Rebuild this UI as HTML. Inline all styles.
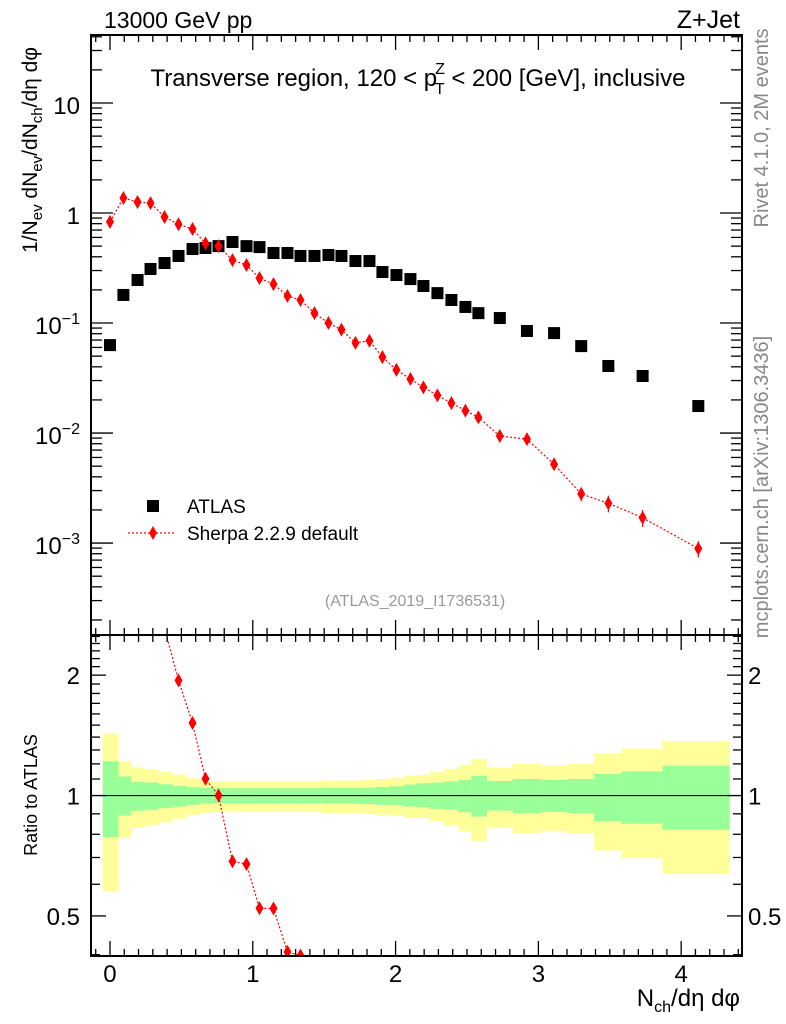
<!DOCTYPE html>
<html><head><meta charset="utf-8"><style>
html,body{margin:0;padding:0;background:#fff;overflow:hidden;width:786px;height:1024px;}
svg{display:block;}
svg text{font-family:"Liberation Sans",sans-serif;}
</style></head><body>
<svg id="chart" width="786" height="1024" viewBox="0 0 786 1024" xmlns="http://www.w3.org/2000/svg">
<g id="bands"></g>
<g id="marks"></g>
<g id="axes"></g>
<text x="104" y="28" font-size="23">13000 GeV pp</text>
<text x="740" y="28" font-size="25" text-anchor="end">Z+Jet</text>
<text x="418" y="86" font-size="24" text-anchor="middle">Transverse region, 120 &lt; p<tspan font-size="16" dx="-2" dy="-12">Z</tspan><tspan font-size="16" dx="-10" dy="20">T</tspan><tspan dy="-8"> &lt; 200 [GeV], inclusive</tspan></text>
<text transform="translate(37,150) rotate(-90)" font-size="21" text-anchor="middle">1/N<tspan font-size="15" dy="5">ev</tspan><tspan dy="-5"> dN</tspan><tspan font-size="15" dy="5">ev</tspan><tspan dy="-5">/dN</tspan><tspan font-size="15" dy="5">ch</tspan><tspan dy="-5">/dη dφ</tspan></text>
<text transform="translate(37,795) rotate(-90)" font-size="18" text-anchor="middle">Ratio to ATLAS</text>
<text x="740" y="1006" font-size="24" text-anchor="end">N<tspan font-size="16" dy="6">ch</tspan><tspan dy="-6">/dη dφ</tspan></text>
<text transform="translate(768,128) rotate(-90)" font-size="20" fill="#888" text-anchor="middle">Rivet 4.1.0,  2M events</text>
<text transform="translate(768,487) rotate(-90)" font-size="20" fill="#888" text-anchor="middle">mcplots.cern.ch [arXiv:1306.3436]</text>
<text x="415" y="606" font-size="16" fill="#999" text-anchor="middle">(ATLAS_2019_I1736531)</text>
<g>
<rect x="147" y="500" width="12" height="12" fill="#000"/>
<text x="187" y="513" font-size="19">ATLAS</text>
<line x1="128" y1="533" x2="176" y2="533" stroke="red" stroke-width="1.2" stroke-dasharray="2,2"/>
<path d="M153,526 L157,533 L153,540 L149,533 Z" fill="red"/>
<text x="187" y="540" font-size="19">Sherpa 2.2.9 default</text>
</g>
</svg>
<script>
const xCenters=[0,0.094,0.193,0.284,0.382,0.480,0.578,0.669,0.760,0.858,0.956,1.047,1.145,1.243,1.334,1.432,1.530,1.621,1.719,1.817,1.908,2.006,2.104,2.195,2.293,2.391,2.489,2.580,2.73,2.92,3.11,3.30,3.49,3.73,4.12];
const binEdges=[-0.05,0.06,0.15,0.245,0.34,0.44,0.54,0.63,0.72,0.81,0.91,1.0,1.1,1.2,1.29,1.38,1.48,1.58,1.67,1.77,1.86,1.96,2.06,2.15,2.24,2.34,2.44,2.53,2.64,2.82,3.02,3.20,3.39,3.58,3.87,4.34];
const atlasValues=[0.063,0.18,0.246,0.31,0.351,0.407,0.471,0.481,0.50,0.545,0.50,0.49,0.433,0.433,0.407,0.407,0.415,0.407,0.366,0.366,0.291,0.273,0.251,0.217,0.187,0.162,0.14,0.123,0.111,0.0846,0.081,0.0617,0.0407,0.033,0.0176];
const sherpaValues=[0.83,1.37,1.26,1.23,0.92,0.79,0.715,0.53,0.50,0.373,0.337,0.256,0.226,0.176,0.162,0.123,0.10,0.087,0.066,0.069,0.049,0.0375,0.031,0.026,0.022,0.0187,0.016,0.0139,0.0094,0.0088,0.0052,0.0028,0.0023,0.0017,0.00089];
const sherpaErrors=[0,0,0,0,0,0,0,0,0,0,0,0,0,0,0,0,0,0,0,0,0,0,0,0,0,0,0,0,0.0006,0.0006,0.0005,0.0004,0.0004,0.0003,0.00015];
const yellowUp=[1.43,1.218,1.175,1.164,1.148,1.128,1.105,1.09,1.085,1.084,1.084,1.084,1.084,1.084,1.084,1.084,1.09,1.09,1.09,1.095,1.1,1.105,1.12,1.126,1.144,1.166,1.193,1.232,1.175,1.2,1.188,1.2,1.276,1.31,1.37];
const yellowDn=[0.576,0.785,0.829,0.841,0.856,0.875,0.895,0.905,0.91,0.912,0.912,0.912,0.912,0.912,0.912,0.912,0.905,0.905,0.905,0.9,0.895,0.89,0.88,0.878,0.864,0.841,0.813,0.769,0.829,0.805,0.816,0.805,0.729,0.697,0.637];
const greenUp=[1.218,1.116,1.083,1.078,1.067,1.057,1.049,1.045,1.043,1.043,1.043,1.043,1.043,1.043,1.043,1.043,1.045,1.045,1.045,1.047,1.05,1.055,1.065,1.073,1.078,1.084,1.094,1.12,1.088,1.1,1.094,1.1,1.133,1.149,1.188];
const greenDn=[0.787,0.891,0.916,0.921,0.93,0.939,0.948,0.955,0.957,0.957,0.957,0.957,0.957,0.957,0.957,0.957,0.955,0.955,0.955,0.952,0.948,0.945,0.938,0.935,0.926,0.921,0.909,0.886,0.917,0.903,0.91,0.903,0.864,0.85,0.821];
const xTickLabels=["0","1","2","3","4"];
const yMainDecades=[-3,-2,-1,0,1];
const ratioTickLabels=["0.5","1","2"];

const NS="http://www.w3.org/2000/svg";
const L=91,R=742,T=35,MB=635,RB=956;
const X0=-0.133,X1=4.426;
const sx=v=>L+(v-X0)/(X1-X0)*(R-L);
const LY0=Math.log10(1.46e-4),LY1=Math.log10(41.5);
const sy=v=>MB-(Math.log10(v)-LY0)/(LY1-LY0)*(MB-T);
const RY0=Math.log10(0.397),RY1=Math.log10(2.52);
const sr=v=>RB-(Math.log10(v)-RY0)/(RY1-RY0)*(RB-MB);
function mk(parent,tag,attrs){const e=document.createElementNS(NS,tag);for(const k in attrs)e.setAttribute(k,attrs[k]);document.getElementById(parent).appendChild(e);return e;}

for(let i=0;i<xCenters.length;i++){
  const x1=sx(binEdges[i]),x2=sx(binEdges[i+1]);
  const y=mk('bands','rect',{x:x1,y:sr(yellowUp[i]),width:x2-x1,height:sr(yellowDn[i])-sr(yellowUp[i]),fill:'#ffff99'});
  
  
  const g=mk('bands','rect',{x:x1,y:sr(greenUp[i]),width:x2-x1,height:sr(greenDn[i])-sr(greenUp[i]),fill:'#99ff99'});
  
  
}
const one=mk('bands','line',{x1:L,x2:R,y1:sr(1),y2:sr(1),stroke:'#000','stroke-width':1.2});



const defs=mk('marks','defs',{});
const cp=document.createElementNS(NS,'clipPath');cp.setAttribute('id','rclip');
const cr=document.createElementNS(NS,'rect');cr.setAttribute('x',L);cr.setAttribute('y',MB);cr.setAttribute('width',R-L);cr.setAttribute('height',RB-MB);
cp.appendChild(cr);defs.appendChild(cp);

let d='';xCenters.forEach((x,i)=>{d+=(i?'L':'M')+sx(x)+','+sy(sherpaValues[i]);});
const sl=mk('marks','path',{d:d,fill:'none',stroke:'red','stroke-width':1.2,'stroke-dasharray':'2,2'});


xCenters.forEach((x,i)=>{
  const r=mk('marks','rect',{x:sx(x)-6,y:sy(atlasValues[i])-6,width:12,height:12,fill:'#000'});
  
  
});
xCenters.forEach((x,i)=>{
  const cx=sx(x),cy=sy(sherpaValues[i]);
  if(sherpaErrors[i]>0){
    const e=mk('marks','line',{x1:cx,x2:cx,y1:sy(sherpaValues[i]+sherpaErrors[i]),y2:sy(sherpaValues[i]-sherpaErrors[i]),stroke:'red','stroke-width':1.2});
    
    
  }
  const p=mk('marks','path',{d:`M${cx},${cy-7}L${cx+4},${cy}L${cx},${cy+7}L${cx-4},${cy}Z`,fill:'red'});
  
  
});
const rg=mk('marks','g',{'clip-path':'url(#rclip)'});


let rd='';xCenters.forEach((x,i)=>{rd+=(i?'L':'M')+sx(x)+','+sr(sherpaValues[i]/atlasValues[i]);});
const rl=document.createElementNS(NS,'path');rl.setAttribute('d',rd);rl.setAttribute('fill','none');rl.setAttribute('stroke','red');rl.setAttribute('stroke-width','1.2');rl.setAttribute('stroke-dasharray','2,2');


rg.appendChild(rl);
xCenters.forEach((x,i)=>{
  const cx=sx(x),cy=sr(sherpaValues[i]/atlasValues[i]);
  const p=document.createElementNS(NS,'path');p.setAttribute('d',`M${cx},${cy-7}L${cx+4},${cy}L${cx},${cy+7}L${cx-4},${cy}Z`);p.setAttribute('fill','red');
  
  
  rg.appendChild(p);
});

[[T,MB],[MB,RB]].forEach(([a,b])=>{
  const f=mk('axes','rect',{x:L,y:a,width:R-L,height:b-a,fill:'none',stroke:'#000','stroke-width':2});
  
  
});
function tk(x1,y1,x2,y2){const t=mk('axes','line',{x1,y1,x2,y2,stroke:'#000','stroke-width':1.3});}
for(let k=-1;k<=44;k++){const v=k/10;if(v<X0||v>X1)continue;const x=sx(v);const len=k%10===0?15:7;
  [[T,1],[MB,-1],[MB,1],[RB,-1]].forEach(([y,s])=>tk(x,y,x,y+s*len));}
xTickLabels.forEach((lab,i)=>{const t=mk('axes','text',{x:sx(i),y:982,'font-size':24,'text-anchor':'middle'});t.textContent=lab;
  
  });
for(let e=-4;e<=1;e++){for(let m=1;m<=9;m++){const v=m*Math.pow(10,e);const y=sy(v);if(y<T||y>MB)continue;const len=m===1?22:11;tk(L,y,L+len,y);tk(R,y,R-len,y);}}
yMainDecades.forEach(e=>{const y=sy(Math.pow(10,e));
  const t=mk('axes','text',{x:80,y:y+11,'font-size':24,'text-anchor':'end'});
  if(e===0)t.textContent='1';else if(e===1)t.textContent='10';
  else{t.textContent='10';const s=document.createElementNS(NS,'tspan');s.setAttribute('dy','-10');s.setAttribute('font-size','16');s.textContent='−'+(-e);t.appendChild(s);}
  
  });
const rMinor=[0.4,0.5,0.6,0.7,0.8,0.9,1,1.1,1.2,1.3,1.4,1.5,1.6,1.7,1.8,1.9,2,2.1,2.2,2.3,2.4,2.5];
rMinor.forEach(v=>{const y=sr(v);const len=(v===0.5||v===1||v===2)?15:9;tk(L,y,L+len,y);tk(R,y,R-len,y);});
ratioTickLabels.forEach(lab=>{const y=sr(parseFloat(lab));
  const a=mk('axes','text',{x:80,y:y+9,'font-size':24,'text-anchor':'end'});a.textContent=lab;
  
  
  const b=mk('axes','text',{x:748,y:y+9,'font-size':24});b.textContent=lab;
  
  });
</script>
</body></html>
